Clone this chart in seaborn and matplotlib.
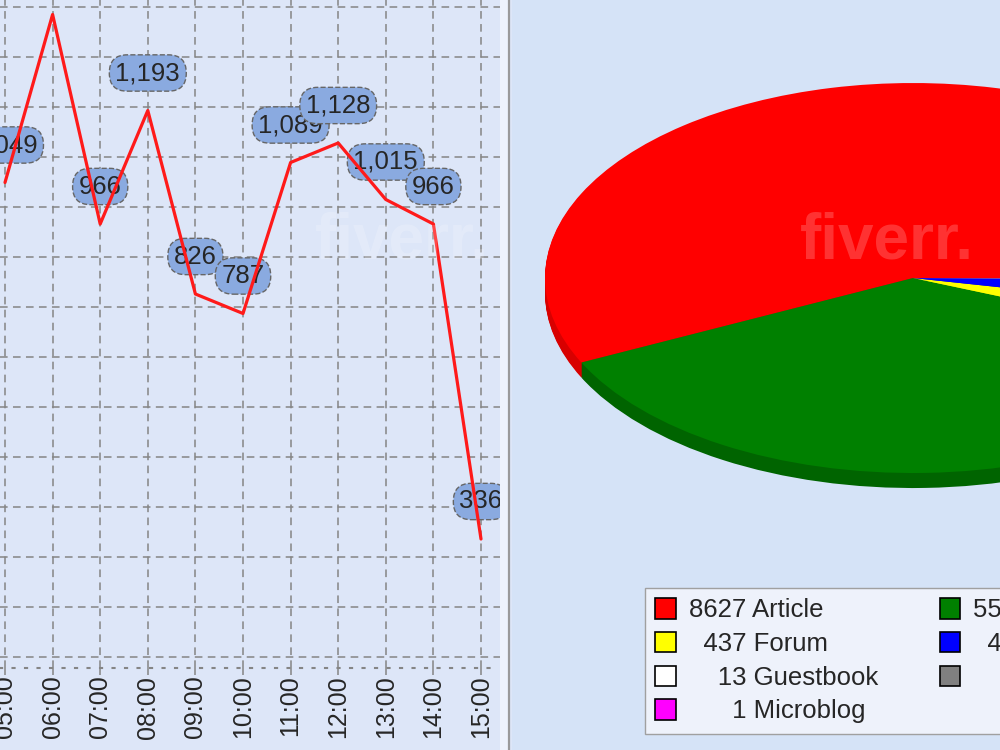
import seaborn as sns
import matplotlib.pyplot as plt
from matplotlib.patches import Patch, Rectangle
from matplotlib.lines import Line2D

# hourly mentions (line chart, left panel)
hours = ["05:00", "06:00", "07:00", "08:00", "09:00", "10:00",
         "11:00", "12:00", "13:00", "14:00", "15:00"]
counts = [1049, 1385, 966, 1193, 826, 787, 1089, 1128, 1015, 966, 336]

# source breakdown (pie, right panel) - green/blue/grey names and values are cut off in the source
sources = ["Article", "News", "Forum", "Blog", "Guestbook", "Video", "Microblog"]
source_counts = [8627, 5560, 437, 455, 13, 7, 1]
source_colors = ["#ff0000", "#008000", "#ffff00", "#0000ff", "#ffffff", "#808080", "#ff00ff"]
side_colors = ["#d80000", "#006400", "#d8d800", "#0000c0", "#d0d0d0", "#606060", "#c000c0"]

sns.set_style("white")
plt.rcParams['font.family'] = ['Liberation Sans', 'DejaVu Sans']

fig = plt.figure(figsize=(10, 7.5), dpi=100)
fig.patch.set_facecolor('#dde6f8')

# panel backgrounds / separator
fig.add_artist(Rectangle((0.512, 0), 0.488, 1, transform=fig.transFigure,
                         facecolor='#d5e3f7', edgecolor='none', zorder=-2))
fig.add_artist(Rectangle((0.500, 0), 0.008, 1, transform=fig.transFigure,
                         facecolor='#eef3fc', edgecolor='none', zorder=-1))
fig.add_artist(Line2D([0.5095, 0.5095], [0, 1], transform=fig.transFigure,
                      color='#9a9a9a', lw=1.6))

# ---- line chart ----
ax = fig.add_axes([0, 82 / 750, 0.5, 668 / 750])
ax.set_facecolor('#dde6f8')
sns.lineplot(x=hours, y=counts, ax=ax, color='#ff1a1a', lw=2.3, zorder=4)

for i, v in enumerate(counts):
    ax.annotate(f"{v:,}", (i, v), xytext=(0, 27), textcoords='offset points',
                ha='center', va='center', fontsize=18.5, zorder=3, clip_on=True,
                bbox=dict(boxstyle='round,pad=0.24,rounding_size=0.7', fc='#8aaae0',
                          ec='#666666', ls='--', lw=1))

ax.set_xlim(-5 / 47.6, 495 / 47.6)
ax.set_ylim(78, 1414)
ax.set_yticks(range(100, 1401, 100))
ax.grid(True, color='#858585', ls=(0, (5, 3.5)), lw=1.1)
ax.tick_params(axis='y', left=False, labelleft=False)
ax.tick_params(axis='x', bottom=True, length=5, width=1.1, color='#858585',
               pad=0.5, labelsize=18, rotation=90)
for s in ['left', 'right', 'top']:
    ax.spines[s].set_visible(False)
ax.spines['bottom'].set_linestyle((0, (1, 5)))
ax.spines['bottom'].set_color('#858585')
ax.spines['bottom'].set_linewidth(1.5)
ax.set_xlabel('')
ax.set_ylabel('')

# ---- 3D-looking pie ----
depth = 0.077
pax = fig.add_axes([0.545, 0.3493, 0.736, 0.54])
n = 16
for k in range(n, 0, -1):
    pax.pie(source_counts, colors=side_colors, startangle=0,
            center=(0, -depth * k / n), wedgeprops=dict(lw=0))
pax.pie(source_counts, colors=source_colors, startangle=0, wedgeprops=dict(lw=0))
pax.set_aspect('auto')
pax.set_xlim(-1, 1)
pax.set_ylim(-1 - depth, 1)
pax.axis('off')

# legend (row-major in the picture -> column-major order for matplotlib)
order = [0, 2, 4, 6, 1, 3, 5]
handles = [Patch(facecolor=source_colors[i], edgecolor='black', lw=1.2) for i in order]
labels = ['\u2007' * (4 - len(str(source_counts[i]))) + f"{source_counts[i]} {sources[i]}"
          for i in order]
leg = fig.legend(handles, labels, ncol=2, loc='upper left', bbox_to_anchor=(0.645, 0.216),
                 fontsize=18.5, frameon=True, fancybox=False, borderpad=0.4,
                 labelspacing=0.37, handlelength=0.8, handleheight=0.85,
                 handletextpad=0.5, columnspacing=2.4, borderaxespad=0)
leg.get_frame().set_facecolor('#eef2fb')
leg.get_frame().set_edgecolor('#a0a0a0')
leg.get_frame().set_alpha(1)

# faint watermarks
for x, y in [(0.80, 0.655), (0.315, 0.655)]:
    fig.text(x, y, 'fiverr.', color='white', alpha=0.2, fontsize=46, fontweight='bold')

fig.savefig('out.png', dpi=100)
